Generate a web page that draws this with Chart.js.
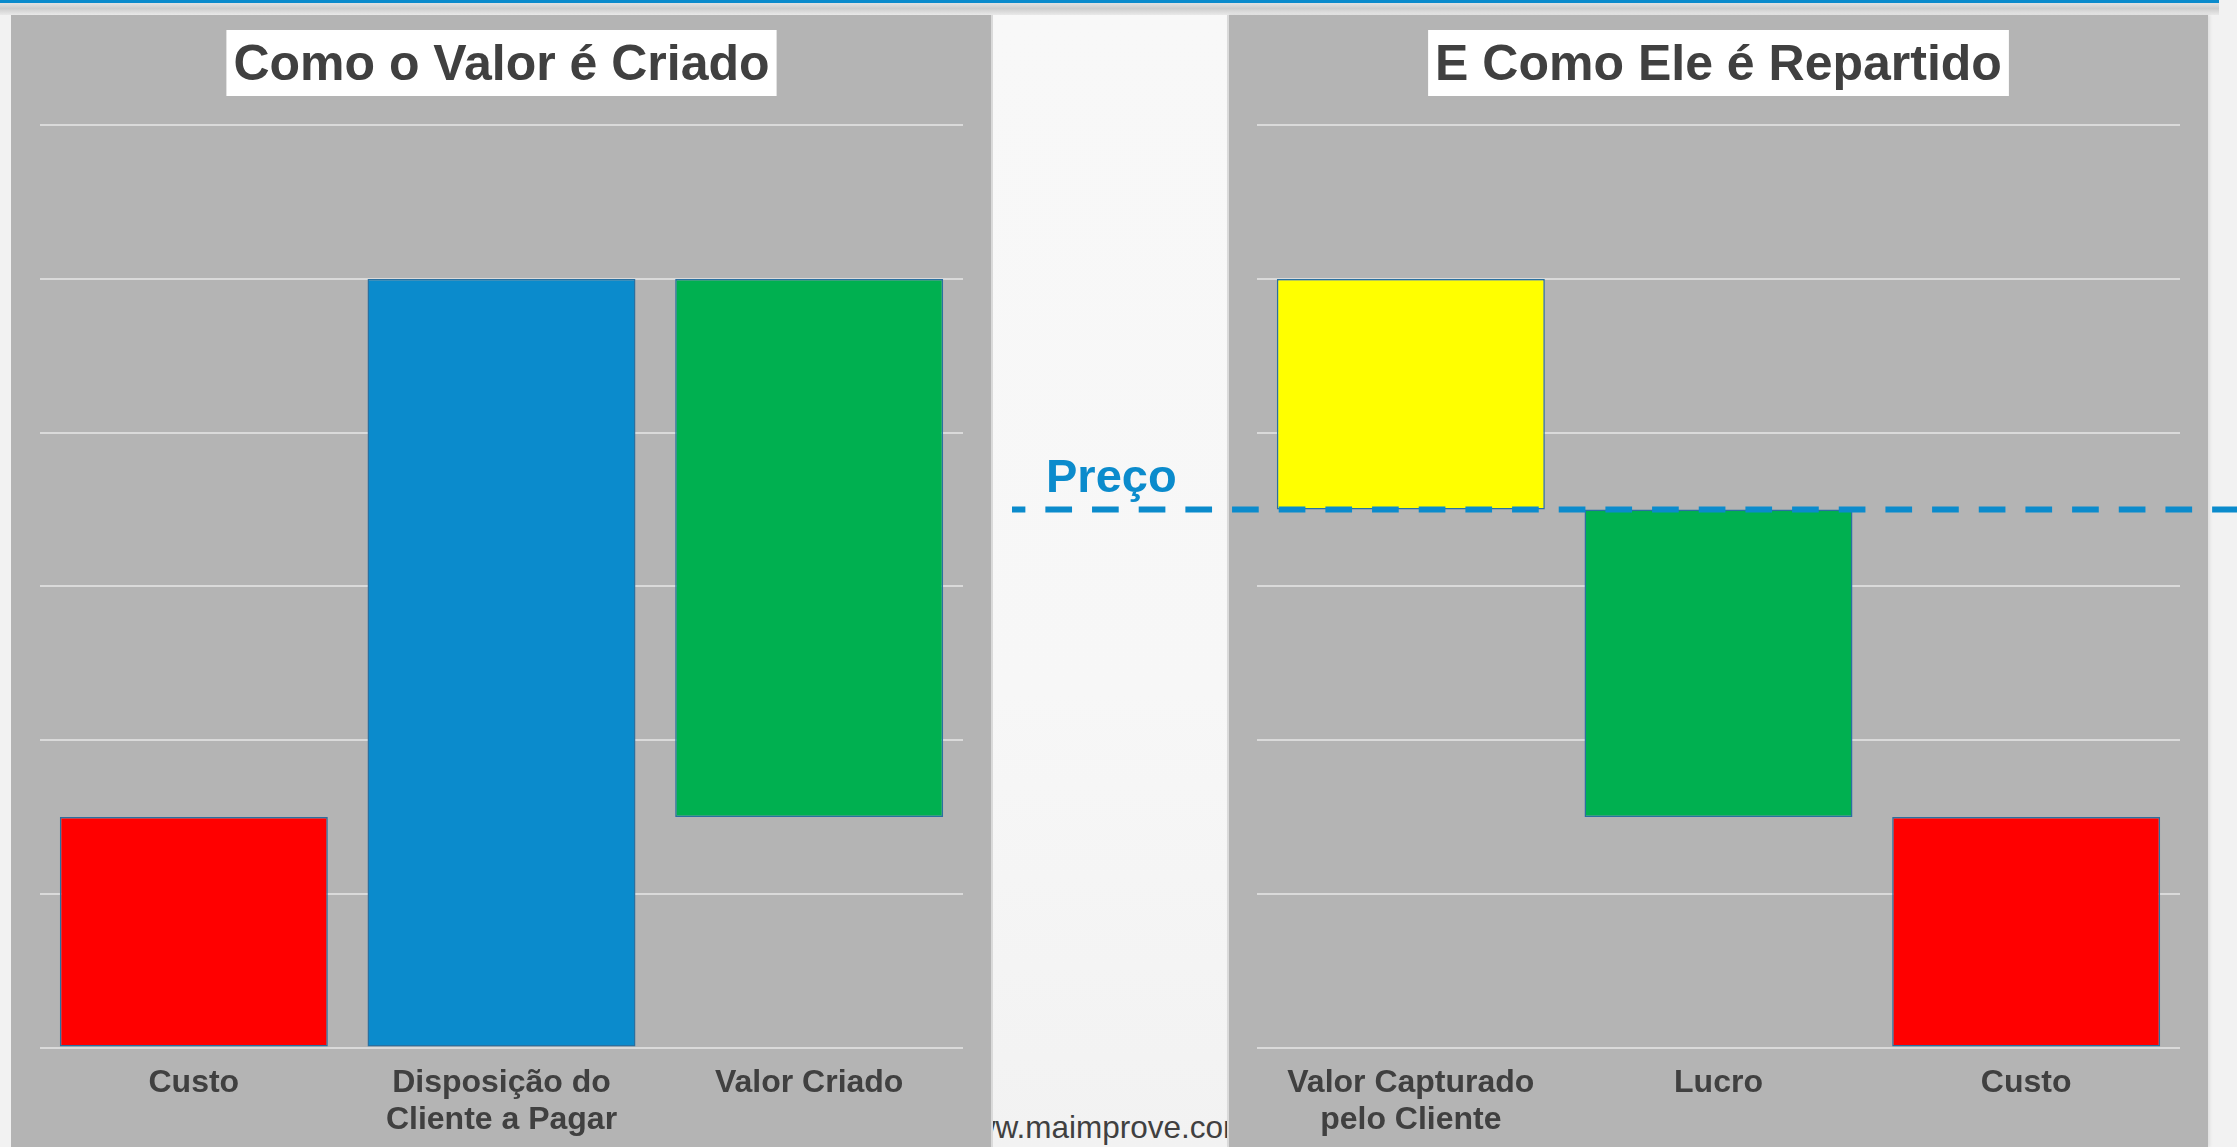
<!DOCTYPE html>
<html>
<head>
<meta charset="utf-8">
<script src="https://cdn.jsdelivr.net/npm/chart.js@4.4.0/dist/chart.umd.min.js"></script>
<style>
  html, body { margin: 0; padding: 0; }
  body { width: 2237px; height: 1147px; background: #f2f2f2; position: relative; overflow: hidden;
         font-family: "Liberation Sans", Arial, sans-serif; }
  #topband { position: absolute; left: 0; top: 0; width: 2219px; height: 3px; background: #0b8bcc; }
  #shadow { position: absolute; left: 0; top: 3px; width: 2219px; height: 12px;
            background: linear-gradient(#e2e2e2, #cdcdcd 45%, #e9e9e9); }
  #gap { position: absolute; left: 993px; top: 15px; width: 234px; height: 1132px;
         background: linear-gradient(#f8f8f8, #f7f7f7 60%, #f2f2f2); }
  #watermark { position: absolute; left: 950px; top: 1112px; font-size: 31.5px; line-height: 31px;
               color: #404040; white-space: nowrap; z-index: 1; }
  .panel { position: absolute; top: 15px; height: 1132px; background: #b4b4b4; z-index: 2; }
  #lp { left: 11px; width: 980px; border-right: 2px solid #dadada; }
  #rp { left: 1227px; width: 979px; border-left: 2px solid #dadada; box-shadow: 2px 0 3px rgba(0,0,0,0.08); }
  .wrap { position: absolute; top: 15px; height: 1132px; z-index: 3; }
  #lw { left: 11px; width: 980px; }
  #rw { left: 1000px; width: 1237px; }
</style>
</head>
<body>
<div id="topband"></div>
<div id="shadow"></div>
<div id="gap"></div>
<div id="watermark">www.maimprove.com</div>
<div class="panel" id="lp"></div>
<div class="panel" id="rp"></div>
<div class="wrap" id="lw"><canvas id="c1"></canvas></div>
<div class="wrap" id="rw"><canvas id="c2"></canvas></div>
<script>
// ---- data ----
const leftTitle = 'Como o Valor é Criado';
const leftCategories = ['Custo', ['Disposição do', 'Cliente a Pagar'], 'Valor Criado'];
const leftLow  = [0, 0, 1.5];
const leftHigh = [1.5, 5, 5];
const leftColors = ['#ff0000', '#0b8bcc', '#00b050'];

const rightTitle = 'E Como Ele é Repartido';
const rightCategories = [['Valor Capturado', 'pelo Cliente'], 'Lucro', 'Custo'];
const rightLow  = [3.5, 1.5, 0];
const rightHigh = [5, 3.5, 1.5];
const rightColors = ['#ffff00', '#00b050', '#ff0000'];

const precoLabel = 'Preço';
const precoValue = 3.5;

const yMin = 0, yMax = 6, yStep = 1;

// ---- helpers ----
const FONT = '"Liberation Sans", Arial, sans-serif';
const TEXT = '#404040';

const titleBoxPlugin = {
  id: 'titleBox',
  beforeDraw(chart) {
    const t = chart.options.plugins.title;
    const ctx = chart.ctx;
    ctx.save();
    ctx.font = 'bold ' + t.font.size + 'px ' + FONT;
    const w = ctx.measureText(t.text).width;
    const cx = (chart.chartArea.left + chart.chartArea.right) / 2;
    ctx.fillStyle = '#ffffff';
    ctx.fillRect(cx - w / 2 - 7, 15, w + 14, 66);
    ctx.restore();
  }
};

function pairs(lo, hi) { return lo.map((v, i) => [v, hi[i]]); }

function makeOptions(title, padLeft, padRight) {
  return {
    responsive: true,
    maintainAspectRatio: false,
    animation: false,
    devicePixelRatio: 1,
    layout: { padding: { left: padLeft, right: padRight, top: 0, bottom: 0 } },
    plugins: {
      legend: { display: false },
      tooltip: { enabled: false },
      title: {
        display: true, text: title, color: TEXT,
        font: { family: FONT, size: 50, weight: 'bold', lineHeight: 1.2 },
        padding: { top: 21, bottom: 29.3 }
      }
    },
    scales: {
      x: {
        grid: { display: false, drawTicks: false },
        border: { display: false },
        ticks: { color: TEXT, padding: 17, maxRotation: 0, autoSkip: false,
                 font: { family: FONT, size: 32, weight: 'bold', lineHeight: 1.16 } },
        afterFit(s) { s.height = 99.5; }
      },
      y: {
        min: yMin, max: yMax,
        ticks: { display: false, stepSize: yStep },
        grid: { color: '#dadada', lineWidth: 2, drawTicks: false },
        border: { display: false },
        afterFit(s) { s.width = 0; }
      }
    }
  };
}

function dataset(lo, hi, colors) {
  return {
    data: pairs(lo, hi),
    backgroundColor: colors,
    borderColor: '#2a70a0',
    borderWidth: 1.5,
    borderSkipped: false,
    barPercentage: 0.871,
    categoryPercentage: 1
  };
}

new Chart(document.getElementById('c1'), {
  type: 'bar',
  data: { labels: leftCategories, datasets: [dataset(leftLow, leftHigh, leftColors)] },
  options: makeOptions(leftTitle, 29, 28),
  plugins: [titleBoxPlugin]
});

const precoPlugin = {
  id: 'preco',
  afterDatasetsDraw(chart) {
    const ctx = chart.ctx;
    const y = chart.scales.y.getPixelForValue(precoValue);
    ctx.save();
    ctx.strokeStyle = '#0b8bcc';
    ctx.lineWidth = 6;
    ctx.setLineDash([26.67, 20]);
    ctx.lineDashOffset = 13.3;
    ctx.beginPath();
    ctx.moveTo(12, y);
    ctx.lineTo(chart.width, y);
    ctx.stroke();
    ctx.setLineDash([]);
    ctx.fillStyle = '#0b8bcc';
    ctx.font = 'bold 47px ' + FONT;
    ctx.textBaseline = 'alphabetic';
    ctx.textAlign = 'left';
    ctx.fillText(precoLabel, 46, y - 18);
    ctx.restore();
  }
};

new Chart(document.getElementById('c2'), {
  type: 'bar',
  data: { labels: rightCategories, datasets: [dataset(rightLow, rightHigh, rightColors)] },
  options: makeOptions(rightTitle, 257, 57),
  plugins: [titleBoxPlugin, precoPlugin]
});
</script>
</body>
</html>
